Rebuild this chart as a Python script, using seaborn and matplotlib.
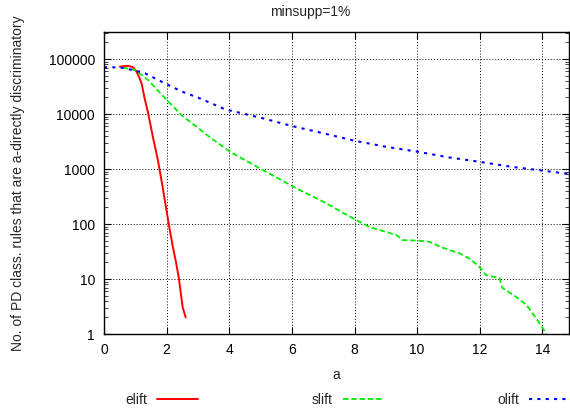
import matplotlib
matplotlib.use("Agg")
import matplotlib.pyplot as plt
import seaborn as sns
import pandas as pd
import numpy as np
from matplotlib.ticker import LogLocator, NullFormatter, FixedLocator

elift_x = [0.51, 0.65, 0.78, 0.92, 1.04, 1.12, 1.20, 1.30, 1.41, 1.57, 1.72, 1.87, 2.01, 2.10, 2.20, 2.30, 2.39, 2.51, 2.61]
elift_y = [72500, 74500, 75000, 71000, 59000, 47000, 36000, 19000, 10300, 3620, 1460, 480, 158, 78, 38, 20, 10.4, 3.1, 2.0]

slift_x = [0.6, 0.99, 1.41, 1.95, 2.47, 3.43, 4.02, 5.08, 6.14, 7.0, 7.94, 8.48, 9.0, 9.34, 9.53, 10.0, 10.4,
           10.72, 11.03, 11.35, 11.7, 11.99, 12.2, 12.63, 12.72, 13.1, 13.49, 13.9, 14.13]
slift_y = [70000, 63000, 41600, 19300, 9600, 3600, 2070, 955, 446, 255, 128, 88, 72, 63, 51, 50, 47.5,
           39, 33.6, 29.4, 23, 16.5, 11.8, 10.4, 6.9, 5.0, 3.4, 1.6, 1.0]

olift_x = [0.0, 0.5, 0.99, 1.31, 1.88, 2.47, 3.12, 3.86, 5.08, 6.0, 7.0, 8.0, 9.0, 10.0, 11.0, 12.0, 13.0, 14.0, 14.85]
olift_y = [70800, 70500, 61700, 55000, 37700, 25800, 18700, 12200, 8340, 6060, 4470, 3270, 2540, 2070, 1630, 1350, 1100, 935, 815]

x_ticks = [0, 2, 4, 6, 8, 10, 12, 14]
y_ticks = [1, 10, 100, 1000, 10000, 100000]
y_tick_labels = ["1", "10", "100", "1000", "10000", "100000"]

sns.set_style("white")
plt.rcParams['font.family'] = ['Liberation Sans', 'DejaVu Sans']

fig = plt.figure(figsize=(5.7, 4.12), dpi=100)
ax = fig.add_axes([104/570, 1 - 334/412, (569 - 104)/570, (334 - 32)/412])

df_e = pd.DataFrame({"a": elift_x, "n": elift_y})
df_s = pd.DataFrame({"a": slift_x, "n": slift_y})
df_o = pd.DataFrame({"a": olift_x, "n": olift_y})

sns.lineplot(data=df_e, x="a", y="n", ax=ax, color="#ff0000", linewidth=1.4, label="elift")
sns.lineplot(data=df_s, x="a", y="n", ax=ax, color="#00ee00", linewidth=1.3, linestyle=(0, (3, 1.6)), label="slift")
sns.lineplot(data=df_o, x="a", y="n", ax=ax, color="#0000ff", linewidth=1.5, linestyle=(0, (1.5, 2.5)), label="olift")

ax.set_yscale("log")
ax.set_xlim(0, 14.85)
ax.set_ylim(1, 310000)
ax.xaxis.set_major_locator(FixedLocator(x_ticks))
ax.set_xticklabels([str(t) for t in x_ticks])
ax.yaxis.set_major_locator(FixedLocator(y_ticks))
ax.set_yticklabels(y_tick_labels)
ax.yaxis.set_minor_locator(LogLocator(base=10, subs=np.arange(2, 10), numticks=20))
ax.yaxis.set_minor_formatter(NullFormatter())

ax.grid(True, which="major", color="black", linestyle=(0, (1, 2)), linewidth=0.7)
for s in ax.spines.values():
    s.set_color("black")
    s.set_linewidth(1.0)

ax.tick_params(axis="both", which="major", direction="in", length=5, width=0.8, top=True, right=True,
               labelsize=10, colors="black", bottom=True, left=True, pad=6.4)
ax.tick_params(axis="y", which="minor", direction="in", length=3, width=0.6, right=True, left=True)

ax.set_xlabel("a", fontsize=10, labelpad=8)
ax.set_ylabel("No. of PD class. rules that are a-directly discriminatory", fontsize=10, labelpad=17)
fig.text(310/570, 1 - 12/412, "minsupp=1%", fontsize=10, ha="center", va="center")

ax.get_legend().remove()
handles, labels = ax.get_legend_handles_labels()
fig.legend(handles, labels, loc="center left", bbox_to_anchor=(125/570, 1 - 400/412), ncol=3, frameon=False,
           markerfirst=False, columnspacing=8.2, handlelength=2.9, handletextpad=0.75, fontsize=10,
           borderpad=0, borderaxespad=0)

fig.savefig("out.png", dpi=100)
